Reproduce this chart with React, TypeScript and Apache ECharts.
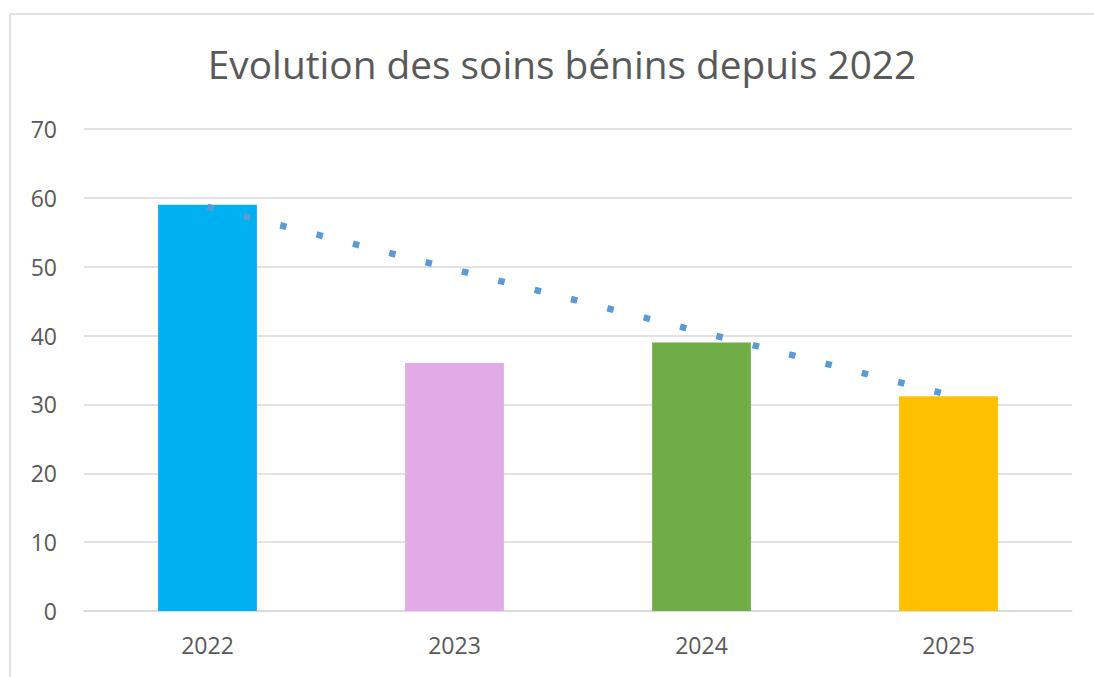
import React, { useEffect, useRef } from "react";
import * as echarts from "echarts";

const categories = ["2022", "2023", "2024", "2025"];
const values = [59, 36, 39, 31.2];
const barColors = ["#00B0F0", "#E2ABE8", "#70AD47", "#FFC000"];
const trendValues = [58.7, 49.6, 40.5, 31.4];
const yTicks = { min: 0, max: 70, interval: 10 };

export default function App() {
  const ref = useRef<HTMLDivElement>(null);
  useEffect(() => {
    if (!ref.current) return;
    const chart = echarts.init(ref.current, null, { renderer: "svg" });
    chart.setOption({
      animation: false,
      backgroundColor: "#ffffff",
      title: {
        text: "Evolution des soins bénins depuis 2022",
        left: 557,
        textAlign: "center",
        top: 39,
        textStyle: {
          fontFamily: "Open Sans",
          fontSize: 38.8,
          fontWeight: "normal",
          color: "#595959",
        },
      },
      graphic: [
        {
          type: "rect",
          shape: { x: 10, y: 14, width: 1200, height: 800 },
          style: { fill: "none", stroke: "#d9d9d9", lineWidth: 1.5 },
          silent: true,
        },
      ],
      grid: { left: 84, right: 22, top: 129, bottom: 66, containLabel: false },
      xAxis: {
        type: "category",
        data: categories,
        axisLine: { show: true, lineStyle: { color: "#d9d9d9", width: 1.5 } },
        axisTick: { show: false },
        axisLabel: {
          color: "#595959",
          fontFamily: "Open Sans",
          fontSize: 23,
          margin: 22,
        },
      },
      yAxis: {
        type: "value",
        min: yTicks.min,
        max: yTicks.max,
        interval: yTicks.interval,
        axisLine: { show: false },
        axisTick: { show: false },
        splitLine: { lineStyle: { color: "#d9d9d9", width: 1.5 } },
        axisLabel: {
          color: "#595959",
          fontFamily: "Open Sans",
          fontSize: 23,
          margin: 27,
        },
      },
      series: [
        {
          type: "bar",
          data: values.map((v, i) => ({ value: v, itemStyle: { color: barColors[i] } })),
          barWidth: "40%",
        },
        {
          type: "line",
          data: trendValues,
          symbol: "none",
          z: 5,
          lineStyle: { color: "#5B9BD5", width: 6.5, type: [6.5, 31], cap: "butt" },
        },
      ],
    });
    return () => chart.dispose();
  }, []);
  return (
    <div
      ref={ref}
      style={{ position: "fixed", left: 0, top: 0, width: 1094, height: 677 }}
    />
  );
}
